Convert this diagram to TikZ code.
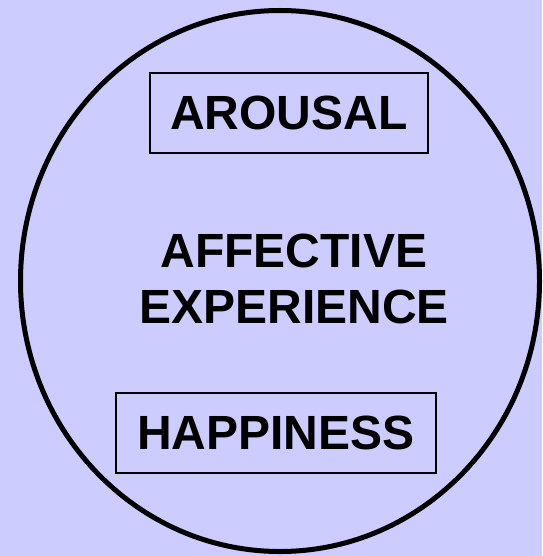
\documentclass[tikz,border=0pt]{standalone}
\usepackage{fontspec}
\setmainfont{Liberation Sans}
\usepackage{tikz}
\usepackage{xcolor}
\definecolor{affectbg}{RGB}{204,204,255}

\tikzset{
    labelbox/.style={draw, line width=2pt, inner sep=0pt, minimum height=80pt, font=\fontsize{48}{56}\selectfont\bfseries},
    bigtext/.style={align=center, inner sep=0pt, font=\fontsize{48}{56}\selectfont\bfseries}
}

\begin{document}
\begin{tikzpicture}[x=1pt, y=-1pt]
    \fill[affectbg] (0,0) rectangle (542,556);
    \useasboundingbox (0,0) rectangle (542,556);

    \draw[line width=5pt] (280,281) ellipse (259.5 and 270.5);

    \node[labelbox, minimum width=278pt] (arousal) at (289,113) {AROUSAL};
    \node[bigtext] (experience) at (294,279) {AFFECTIVE\\EXPERIENCE};
    \node[labelbox, minimum width=320pt] (happiness) at (276,433) {HAPPINESS};
\end{tikzpicture}
\end{document}
